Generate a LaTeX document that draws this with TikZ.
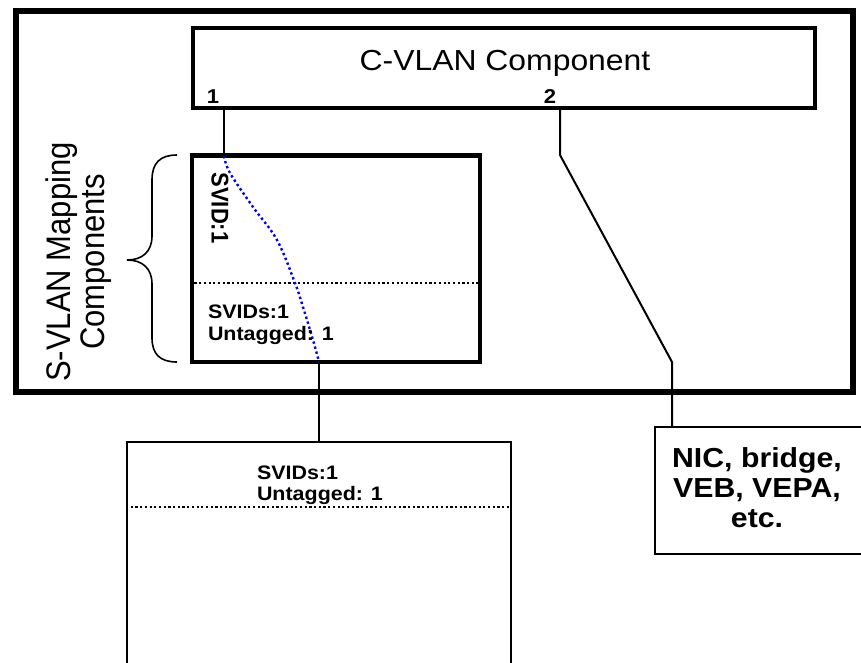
\documentclass[tikz,border=0pt]{standalone}
\usepackage{fontspec}
\setmainfont{Liberation Sans}
\newcommand\hs[1]{\scalebox{1.1}[1]{#1}}
\newcommand\vs[1]{\scalebox{1}[1.1]{#1}}
\begin{document}
\begin{tikzpicture}[x=1pt,y=-1pt,
  boxshape/.style={draw=black,line width=#1,rectangle,inner sep=0pt,fill=none},
  conn/.style={draw=black,line width=2pt},
  sepline/.style={draw=black,line width=2pt,dash pattern=on 2.2pt off 2.5pt},
  blueline/.style={draw=blue,line width=2.4pt,dash pattern=on 2.4pt off 2.8pt},
  txt/.style={inner sep=0pt,outer sep=0pt,text=black}
]
\clip (0,0) rectangle (861,662);
\fill[white] (0,0) rectangle (861,662);

% boxes
\node[boxshape=6pt,minimum width=837pt,minimum height=381pt] (outer) at (434.5,201.5) {};
\node[boxshape=4.5pt,minimum width=622pt,minimum height=80pt] (cvlan) at (504,68) {};
\node[boxshape=4.5pt,minimum width=288pt,minimum height=206.5pt] (map) at (336,258.75) {};
\node[boxshape=2pt,minimum width=384pt,minimum height=258pt] (low) at (319,571) {};
\node[boxshape=2pt,minimum width=211pt,minimum height=127pt] (nic) at (760.5,490.5) {};

% separators
\draw[sepline] (map.west |- 0,283) -- (map.east |- 0,283);
\draw[sepline] (low.west |- 0,507) -- (low.east |- 0,507);

% connectors
\coordinate (p1) at (224,108);
\coordinate (p2) at (560,108);
\coordinate (k1) at (560,155);
\coordinate (k2) at (672,362);
\coordinate (m1) at (319,362);
\draw[conn] (p1) -- (p1 |- map.north);
\draw[conn] (p2) -- (k1) -- (k2) -- (k2 |- nic.north);
\draw[conn] (m1) -- (m1 |- low.north);
\draw[blueline] plot[smooth,tension=0.6] coordinates {(224,156) (230,173) (253,207) (277,240) (295,283) (303,307) (313,340) (319,362)};

% brace
\draw[black,line width=1.6pt] (177,155) .. controls (160,155) and (152,163) .. (152,180) -- (152,236)
  .. controls (152,252) and (142,260) .. (127,260)
  .. controls (142,260) and (152,268) .. (152,284) -- (152,338)
  .. controls (152,354) and (160,362) .. (177,362);

% texts
\node[txt,anchor=base] (cvt) at (505,70) {\fontsize{29}{34}\selectfont\hs{C-VLAN Component}};
\node[txt,anchor=base] (lab1) at (213,103) {\fontsize{20}{22}\selectfont\bfseries\hs{1}};
\node[txt,anchor=base] (lab2) at (550,103) {\fontsize{20}{22}\selectfont\bfseries\hs{2}};
\node[txt,rotate=-90] (svid) at (220,208) {\fontsize{22}{24}\selectfont\bfseries\vs{SVID:1}};
\node[txt,anchor=base west,align=left,font=\fontsize{19.5}{22}\selectfont\bfseries] (mt) at (208,340) {\hs{SVIDs:1}\\\hs{Untagged: 1}};
\node[txt,anchor=base west,align=left,font=\fontsize{19.5}{21}\selectfont\bfseries] (lt) at (257,500) {\hs{SVIDs:1}\\\hs{Untagged: 1}};
\node[txt,rotate=90,anchor=base] (sv1) at (70,262) {\fontsize{31}{34}\selectfont\vs{S-VLAN Mapping}};
\node[txt,rotate=90,anchor=base] (sv2) at (104,262) {\fontsize{31}{34}\selectfont\vs{Components}};
\node[txt,anchor=base,align=center,font=\fontsize{27.5}{30}\selectfont\bfseries] (nict) at (757,527) {\hs{NIC, bridge,}\\\hs{VEB, VEPA,}\\\hs{etc.}};
\end{tikzpicture}
\end{document}
